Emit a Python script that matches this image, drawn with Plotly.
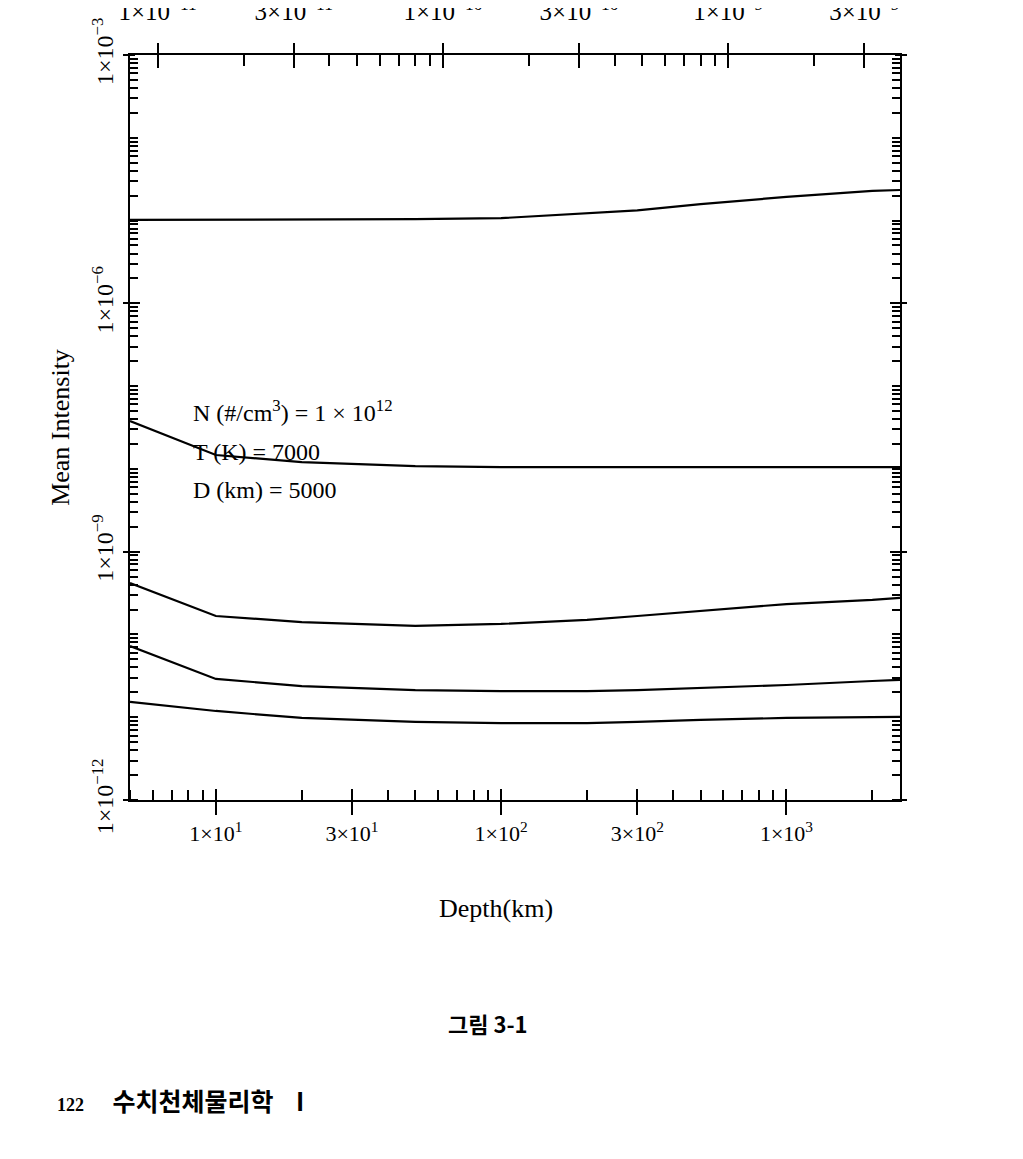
import math
import plotly.graph_objects as go

# ---------------- data ----------------
depth_km = [5, 10, 20, 30, 50, 100, 200, 300, 500, 1000, 2000, 2500]

intensity_1 = [1.02e-5, 1.02e-5, 1.02e-5, 1.03e-5, 1.04e-5, 1.07e-5, 1.22e-5, 1.33e-5, 1.58e-5, 1.93e-5, 2.28e-5, 2.34e-5]
intensity_2 = [3.79e-8, 1.47e-8, 1.21e-8, 1.15e-8, 1.08e-8, 1.05e-8, 1.05e-8, 1.05e-8, 1.05e-8, 1.05e-8, 1.05e-8, 1.05e-8]
intensity_3 = [4.18e-10, 1.67e-10, 1.41e-10, 1.34e-10, 1.27e-10, 1.34e-10, 1.50e-10, 1.67e-10, 1.92e-10, 2.33e-10, 2.61e-10, 2.76e-10]
intensity_4 = [7.26e-11, 2.90e-11, 2.38e-11, 2.25e-11, 2.13e-11, 2.07e-11, 2.07e-11, 2.13e-11, 2.25e-11, 2.45e-11, 2.74e-11, 2.82e-11]
intensity_5 = [1.53e-11, 1.19e-11, 9.8e-12, 9.3e-12, 8.8e-12, 8.5e-12, 8.5e-12, 8.8e-12, 9.3e-12, 9.8e-12, 1.01e-11, 1.01e-11]

series = [intensity_1, intensity_2, intensity_3, intensity_4, intensity_5]

# bottom axis (depth)
x_range = [5, 2500]
x_major = [10, 30, 100, 300, 1000]
x_major_text = ["1×10<sup>1</sup>", "3×10<sup>1</sup>", "1×10<sup>2</sup>", "3×10<sup>2</sup>", "1×10<sup>3</sup>"]
x_minor = [5, 6, 7, 8, 9, 20, 40, 50, 60, 70, 80, 90, 200, 400, 500, 600, 700, 800, 900, 2000]

# top axis
top_range = [8e-12, 4e-9]
top_major = [1e-11, 3e-11, 1e-10, 3e-10, 1e-9, 3e-9]
top_major_text = ["1×10<sup>−11</sup>", "3×10<sup>−11</sup>", "1×10<sup>−10</sup>",
                  "3×10<sup>−10</sup>", "1×10<sup>−9</sup>", "3×10<sup>−9</sup>"]
top_minor = [2e-11, 4e-11, 5e-11, 6e-11, 7e-11, 8e-11, 9e-11,
             2e-10, 4e-10, 5e-10, 6e-10, 7e-10, 8e-10, 9e-10, 2e-9]

# y axis
y_range = [1e-12, 1e-3]
y_major = [1e-12, 1e-9, 1e-6, 1e-3]
y_major_text = ["1×10<sup>−12</sup>", "1×10<sup>−9</sup>", "1×10<sup>−6</sup>", "1×10<sup>−3</sup>"]
y_minor = [k * 10.0 ** e for e in range(-12, -3) for k in range(1, 10)]

x_title = "Depth(km)"
y_title = "Mean Intensity"
annotation_lines = ["N (#/cm<sup>3</sup>) = 1 × 10<sup>12</sup>", "T (K) = 7000", "D (km) = 5000"]
caption = "그림 3-1"
page_number = "122"
book_title = "수치천체물리학"
volume = "I"

# ---------------- figure ----------------
SERIF = "Liberation Serif"
KR = "Noto Sans CJK KR"
fig = go.Figure()

for s in series:
    fig.add_trace(go.Scatter(x=depth_km, y=s, mode="lines",
                             line=dict(color="black", width=2.2),
                             showlegend=False, hoverinfo="skip"))

# empty traces to activate overlay axes
for xa, ya in [("x2", "y"), ("x3", "y"), ("x4", "y"), ("x", "y2")]:
    fig.add_trace(go.Scatter(x=[], y=[], xaxis=xa, yaxis=ya, showlegend=False, hoverinfo="skip"))

lg = math.log10

fig.update_layout(
    width=1023, height=1159, autosize=False,
    margin=dict(l=122, r=131, t=47, b=367),
    paper_bgcolor="white", plot_bgcolor="white",
    font=dict(family=SERIF, color="black"),
    xaxis=dict(type="log", range=[lg(x_range[0]), lg(x_range[1])],
               tickvals=x_major, ticktext=x_major_text,
               tickfont=dict(family=SERIF, size=22, color="black"),
               ticks="outside", ticklen=13, tickwidth=2, tickcolor="black",
               minor=dict(tickvals=x_minor, ticks="inside", ticklen=10, tickwidth=2, tickcolor="black"),
               showline=True, linewidth=2, linecolor="black", showgrid=False, zeroline=False,
               anchor="y", side="bottom", automargin=False),
    xaxis3=dict(type="log", range=[lg(x_range[0]), lg(x_range[1])], overlaying="x", anchor="y", side="bottom",
                tickvals=x_major, ticks="inside", ticklen=11, tickwidth=2, tickcolor="black",
                showticklabels=False, showline=False, showgrid=False, zeroline=False, automargin=False),
    xaxis2=dict(type="log", range=[lg(top_range[0]), lg(top_range[1])], overlaying="x", anchor="y", side="top",
                tickvals=top_major, ticktext=top_major_text,
                tickfont=dict(family=SERIF, size=25, color="black"),
                ticks="outside", ticklen=10, tickwidth=2, tickcolor="black", ticklabelstandoff=13,
                minor=dict(tickvals=top_minor, ticks="inside", ticklen=11, tickwidth=2, tickcolor="black"),
                showline=True, linewidth=2, linecolor="black", showgrid=False, zeroline=False,
                automargin=False),
    xaxis4=dict(type="log", range=[lg(top_range[0]), lg(top_range[1])], overlaying="x", anchor="y", side="top",
                tickvals=top_major, ticks="inside", ticklen=13, tickwidth=2, tickcolor="black",
                showticklabels=False, showline=False, showgrid=False, zeroline=False, automargin=False),
    yaxis=dict(type="log", range=[lg(y_range[0]), lg(y_range[1])],
               tickvals=y_major, ticktext=y_major_text,
               tickfont=dict(family=SERIF, size=24, color="black"), tickangle=-90,
               ticks="outside", ticklen=5, tickwidth=2, tickcolor="black",
               minor=dict(tickvals=y_minor, ticks="inside", ticklen=8, tickwidth=1.6, tickcolor="black"),
               showline=True, linewidth=2, linecolor="black", mirror="allticks",
               showgrid=False, zeroline=False,
               title=dict(text=y_title, font=dict(family=SERIF, size=26, color="black"), standoff=11),
               anchor="x", side="left", automargin=False),
    yaxis2=dict(type="log", range=[lg(y_range[0]), lg(y_range[1])], overlaying="y", anchor="x", side="left",
                tickvals=y_major, ticks="inside", ticklen=10, tickwidth=2, tickcolor="black", mirror="allticks",
                showticklabels=False, showline=False, showgrid=False, zeroline=False, automargin=False),
)

# x-axis title (slightly left of centre, as in the reference)
fig.add_annotation(text=x_title, xref="paper", yref="paper", x=0.475, y=-0.145,
                   xanchor="center", yanchor="middle", showarrow=False,
                   font=dict(family=SERIF, size=26, color="black"))

ann_y = [0.522, 0.467, 0.416]
for txt, yy in zip(annotation_lines, ann_y):
    fig.add_annotation(text=txt, xref="paper", yref="paper", x=0.079, y=yy,
                       xanchor="left", yanchor="middle", showarrow=False,
                       font=dict(family=SERIF, size=24, color="black"))

fig.add_annotation(text="<b>" + caption + "</b>", xref="paper", yref="paper", x=0.465, y=-0.299,
                   xanchor="center", yanchor="middle", showarrow=False,
                   font=dict(family=KR, size=22, color="black"))
fig.add_annotation(text="<b><span style=\"font-family:Liberation Serif;font-size:18px\">" + page_number + "</span>"
                        "\u00a0\u00a0\u00a0\u00a0\u00a0" + book_title + "\u00a0\u00a0\u00a0\u00a0" + volume + "</b>",
                   xref="paper", yref="paper", x=-0.0974, y=-0.4027,
                   xanchor="left", yanchor="middle", showarrow=False,
                   font=dict(family=KR, size=25, color="black"))

fig.write_html("out.html")
